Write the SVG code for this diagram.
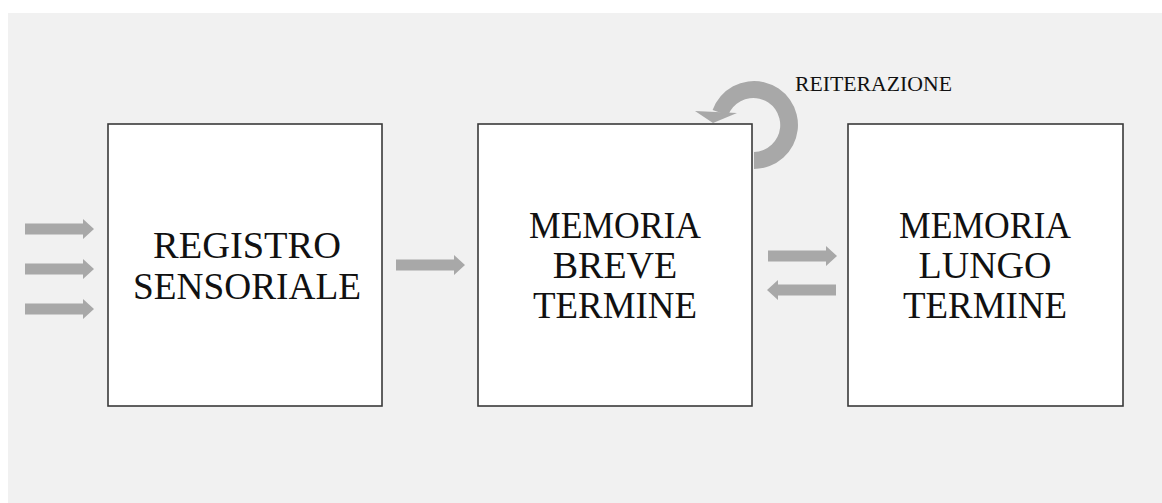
<svg xmlns="http://www.w3.org/2000/svg" width="1162" height="503" viewBox="0 0 1162 503">
  <style>
    .box { fill: #ffffff; stroke: #3a3a3a; stroke-width: 1.6; }
    .lbl { font-family: "Liberation Serif", "Times New Roman", serif; font-size: 38px; fill: #111111; text-anchor: middle; }
    .small { font-family: "Liberation Serif", "Times New Roman", serif; font-size: 21px; fill: #111111; }
    .arrow { fill: #a8a8a8; }
  </style>
  <defs>
    <!-- block arrow pointing right, origin at tail centre, length 69 -->
    <path id="blockArrow" d="M0,-5.5 H58 V-10 L69,0 L58,10 V5.5 H0 Z"/>
  </defs>

  <!-- page background -->
  <rect x="0" y="0" width="1162" height="503" fill="#ffffff"/>
  <rect x="8" y="13" width="1154" height="490" fill="#f1f1f1"/>

  <!-- nodes -->
  <g id="registro-sensoriale">
    <rect class="box" x="108" y="124" width="274" height="282"/>
    <text class="lbl" x="247" y="258" textLength="188" lengthAdjust="spacingAndGlyphs">REGISTRO</text>
    <text class="lbl" x="247" y="299" textLength="228" lengthAdjust="spacingAndGlyphs">SENSORIALE</text>
  </g>

  <g id="memoria-breve-termine">
    <rect class="box" x="478" y="124" width="274" height="282"/>
    <text class="lbl" x="615" y="238" textLength="172" lengthAdjust="spacingAndGlyphs">MEMORIA</text>
    <text class="lbl" x="615" y="278">BREVE</text>
    <text class="lbl" x="615" y="318" textLength="164" lengthAdjust="spacingAndGlyphs">TERMINE</text>
  </g>

  <g id="memoria-lungo-termine">
    <rect class="box" x="848" y="124" width="275" height="282"/>
    <text class="lbl" x="985" y="238" textLength="172" lengthAdjust="spacingAndGlyphs">MEMORIA</text>
    <text class="lbl" x="985" y="278">LUNGO</text>
    <text class="lbl" x="985" y="318" textLength="164" lengthAdjust="spacingAndGlyphs">TERMINE</text>
  </g>

  <!-- connectors -->
  <g id="connectors" class="arrow">
    <!-- sensory inputs -->
    <use href="#blockArrow" x="25" y="229"/>
    <use href="#blockArrow" x="25" y="269"/>
    <use href="#blockArrow" x="25" y="309"/>
    <!-- sensory register to short-term memory -->
    <use href="#blockArrow" x="396" y="265"/>
    <!-- short-term to long-term and back -->
    <use href="#blockArrow" x="768" y="256"/>
    <use href="#blockArrow" transform="translate(836 290) scale(-1 1)"/>
    <!-- rehearsal loop -->
    <path d="M754,169 A44,44 0 1 0 712.6,110 L728,115.4 A27,27 0 1 1 754,152 Z"/>
    <polygon points="695,111 737,113 713,123"/>
  </g>

  <text class="small" x="795" y="91" textLength="157" lengthAdjust="spacingAndGlyphs">REITERAZIONE</text>
</svg>
